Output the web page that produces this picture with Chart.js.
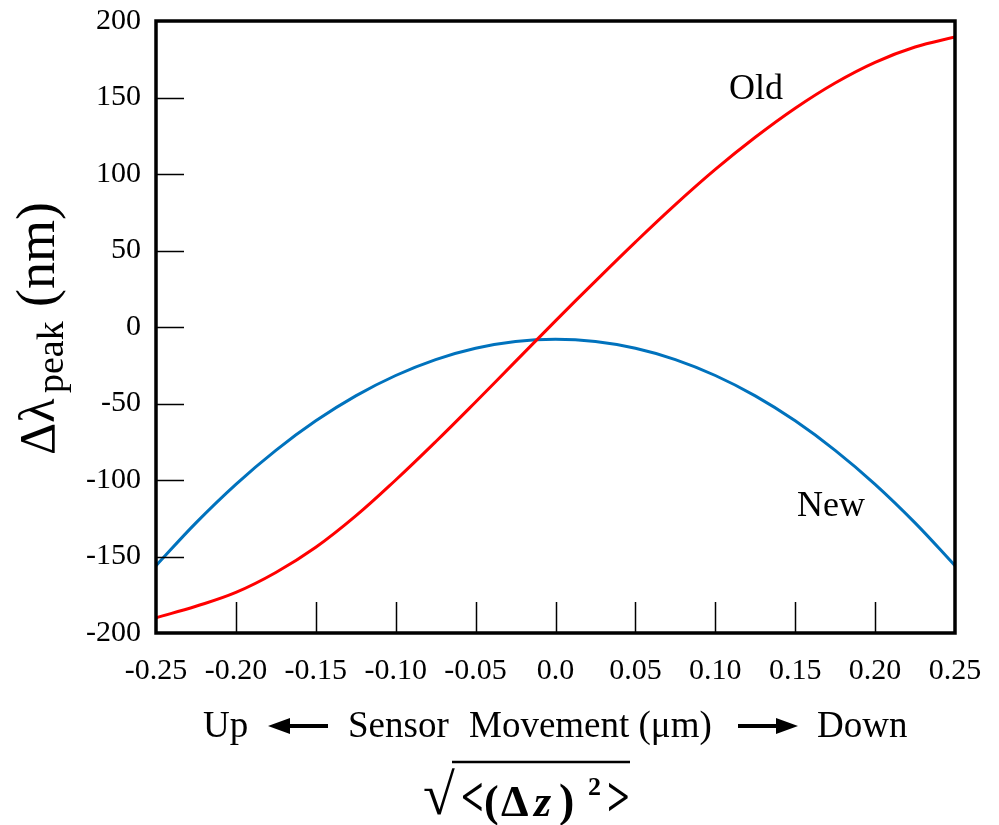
<!DOCTYPE html>
<html>
<head>
<meta charset="utf-8">
<script src="https://cdn.jsdelivr.net/npm/chart.js@4.4.1/dist/chart.umd.min.js"></script>
<style>
  html, body { margin: 0; padding: 0; background: #fff; }
  #wrap { width: 999px; height: 825px; }
</style>
</head>
<body>
<div id="wrap"><canvas id="chart"></canvas></div>
<script>
// sensor movement (um)
const xValues = [-0.25, -0.225, -0.2, -0.175, -0.15, -0.125, -0.1, -0.075, -0.05, -0.025, 0,
                 0.025, 0.05, 0.075, 0.1, 0.125, 0.15, 0.175, 0.2, 0.225, 0.25];

// peak shift (nm)
const oldShift = [-190, -182.5, -173.5, -160.5, -144, -123.5, -100, -75, -49, -22.5, 4,
                  30, 55.5, 80, 103, 124, 143, 159.5, 173, 183, 189.5];
const newShift = [-156, -128, -102.8, -80.6, -61.3, -45, -31.7, -21.3, -13.9, -9.5, -8,
                  -9.5, -13.9, -21.3, -31.7, -45, -61.3, -80.6, -102.8, -128, -156];

const xTicks = [-0.2, -0.15, -0.1, -0.05, 0, 0.05, 0.1, 0.15, 0.2];
const yTicks = [-150, -100, -50, 0, 50, 100, 150];

const serif = '"Liberation Serif", "Times New Roman", serif';

const toPoints = (vals) => xValues.map((x, i) => ({ x: x, y: vals[i] }));

// frame, inward ticks and all the free text
const extras = {
  id: 'extras',
  afterDraw(chart) {
    const { ctx, chartArea: a, scales } = chart;
    const x = scales.x, y = scales.y;
    ctx.save();

    ctx.strokeStyle = '#000';
    ctx.lineWidth = 1.5;
    ctx.beginPath();
    yTicks.forEach(v => {
      const py = Math.round(y.getPixelForValue(v)) + 0.5;
      ctx.moveTo(a.left, py);
      ctx.lineTo(a.left + 28, py);
    });
    xTicks.forEach(v => {
      const px = Math.round(x.getPixelForValue(v)) + 0.5;
      ctx.moveTo(px, a.bottom);
      ctx.lineTo(px, a.bottom - 31);
    });
    ctx.stroke();

    ctx.lineWidth = 3.5;
    ctx.strokeRect(a.left, a.top, a.width, a.height);

    ctx.fillStyle = '#000';
    ctx.textAlign = 'left';
    ctx.textBaseline = 'alphabetic';

    // curve labels
    ctx.font = '36px ' + serif;
    ctx.fillText('Old', 729, 99);
    ctx.fillText('New', 797, 516);

    // x title, first line
    ctx.font = '37px ' + serif;
    ctx.fillText('Up', 203, 737);
    ctx.fillText('Sensor', 348, 737);
    ctx.fillText('Movement (\u03bcm)', 469, 737);
    ctx.fillText('Down', 817, 737);

    const arrow = (from, to, ay) => {
      const dir = Math.sign(to - from);
      ctx.lineWidth = 4;
      ctx.beginPath();
      ctx.moveTo(from, ay);
      ctx.lineTo(to - dir * 18, ay);
      ctx.stroke();
      ctx.beginPath();
      ctx.moveTo(to, ay);
      ctx.lineTo(to - dir * 22, ay - 8);
      ctx.lineTo(to - dir * 22, ay + 8);
      ctx.closePath();
      ctx.fill();
    };
    arrow(328, 268, 726);
    arrow(738, 798, 726);

    // x title, second line: sqrt(<(dz)^2>)
    ctx.font = '58px ' + serif;
    ctx.fillText('\u221a', 423, 814);
    ctx.lineWidth = 2.5;
    ctx.beginPath();
    ctx.moveTo(452, 762);
    ctx.lineTo(630, 762);
    ctx.stroke();

    const bracket = (ch, bx) => {
      ctx.save();
      ctx.translate(bx, 816);
      ctx.scale(1, 1.45);
      ctx.font = 'bold 40px ' + serif;
      ctx.fillText(ch, 0, 0);
      ctx.restore();
    };
    bracket('<', 461);
    bracket('>', 607);
    ctx.font = 'bold 44px ' + serif;
    ctx.fillText('(', 484, 816);
    ctx.fillText('\u0394', 501, 816);
    ctx.font = 'italic bold 44px ' + serif;
    ctx.fillText('z', 534, 816);
    ctx.font = 'bold 46px ' + serif;
    ctx.fillText(')', 559, 816);
    ctx.font = 'bold 26px ' + serif;
    ctx.fillText('2', 588, 795);

    // y title
    ctx.translate(54, 455);
    ctx.rotate(-Math.PI / 2);
    ctx.font = '50px ' + serif;
    ctx.fillText('\u0394\u03bb', 0, 0);
    ctx.font = '38px ' + serif;
    ctx.fillText('peak', 62, 9);
    ctx.font = '54px ' + serif;
    ctx.fillText('(nm)', 148, 0);

    ctx.restore();
  }
};

new Chart(document.getElementById('chart'), {
  type: 'line',
  data: {
    datasets: [
      {
        label: 'Old',
        data: toPoints(oldShift),
        borderColor: '#ff0000',
        borderWidth: 3,
        pointRadius: 0,
        tension: 0.4,
      },
      {
        label: 'New',
        data: toPoints(newShift),
        borderColor: '#0072bd',
        borderWidth: 3,
        pointRadius: 0,
        tension: 0.4,
      },
    ],
  },
  options: {
    responsive: true,
    maintainAspectRatio: false,
    animation: false,
    devicePixelRatio: 1,
    layout: { padding: { left: 0, right: 44, top: 21, bottom: 0 } },
    plugins: {
      legend: { display: false },
      tooltip: { enabled: false },
    },
    scales: {
      x: {
        type: 'linear',
        min: -0.25,
        max: 0.25,
        grid: { display: false, drawTicks: false },
        border: { display: false },
        ticks: {
          stepSize: 0.05,
          padding: 0,
          color: '#000',
          // tall line box pushes the labels down below the axis
          font: { family: serif, size: 30, lineHeight: 2.55 },
          maxRotation: 0,
          callback: (v) => Math.abs(v) < 1e-9 ? '0.0' : v.toFixed(2),
        },
        afterFit: (s) => { s.height = 192; },
      },
      y: {
        min: -200,
        max: 200,
        grid: { display: false, drawTicks: false },
        border: { display: false },
        ticks: {
          stepSize: 50,
          padding: 15,
          color: '#000',
          font: { family: serif, size: 30, lineHeight: 0.3 },
        },
        afterFit: (s) => { s.width = 156; },
      },
    },
  },
  plugins: [extras],
});
</script>
</body>
</html>
